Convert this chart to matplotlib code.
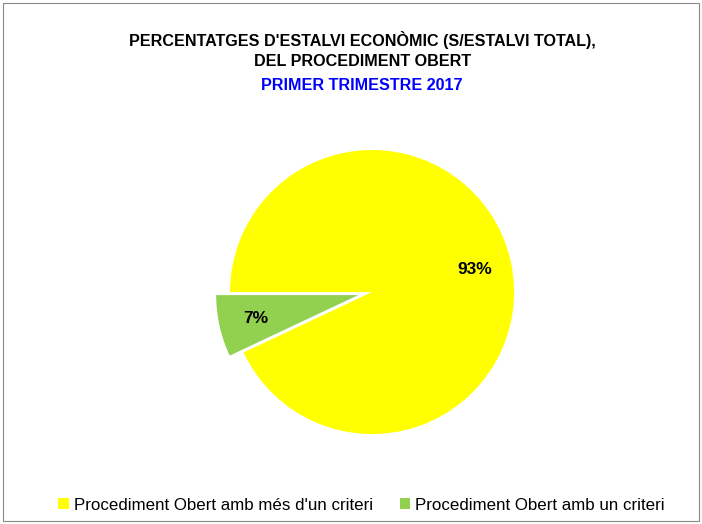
import matplotlib.pyplot as plt
from matplotlib.patches import Rectangle

labels = ["Procediment Obert amb més d'un criteri", "Procediment Obert amb un criteri"]
values = [93, 7]
colors = ["#FFFF00", "#92D050"]
title_lines = ["PERCENTATGES D'ESTALVI ECONÒMIC (S/ESTALVI TOTAL),", "DEL PROCEDIMENT OBERT"]
subtitle = "PRIMER TRIMESTRE 2017"

plt.rcParams["font.family"] = ["Liberation Sans", "DejaVu Sans"]

fig = plt.figure(figsize=(7.02, 5.24), dpi=100)
fig.patches.append(Rectangle((0.004, 0.006), 0.992, 0.988, transform=fig.transFigure,
                             fill=False, edgecolor="#888888", linewidth=0.8))

ax = fig.add_axes([0.3277, 0.1717, 0.4046, 0.542])
wedges, texts, autotexts = ax.pie(values, colors=colors, startangle=180, counterclock=False,
                                  explode=[0, 0.1], autopct="%d%%", pctdistance=0.74,
                                  wedgeprops=dict(linewidth=0))
for t in autotexts:
    t.set_fontsize(12.5)
    t.set_fontweight("bold")
    t.set_color("black")
ax.set_xlim(-1, 1)
ax.set_ylim(-1, 1)
ax.set_aspect("equal")
ax.axis("off")

fig.text(0.516, 1 - 40 / 524, title_lines[0], ha="center", va="center", fontsize=11.6, fontweight="bold")
fig.text(0.516, 1 - 62 / 524, title_lines[1], ha="center", va="center", fontsize=11.6, fontweight="bold")
fig.text(0.516, 1 - 86 / 524, subtitle, ha="center", va="center", fontsize=11.6, fontweight="bold", color="#0000FF")

fig.legend(wedges, labels, loc="center", bbox_to_anchor=(0.515, 1 - 505 / 524), ncol=2, frameon=False,
           fontsize=12.2, handlelength=0.6, handleheight=0.6, handletextpad=0.3, columnspacing=1.6)

fig.savefig("out.png", dpi=100)
